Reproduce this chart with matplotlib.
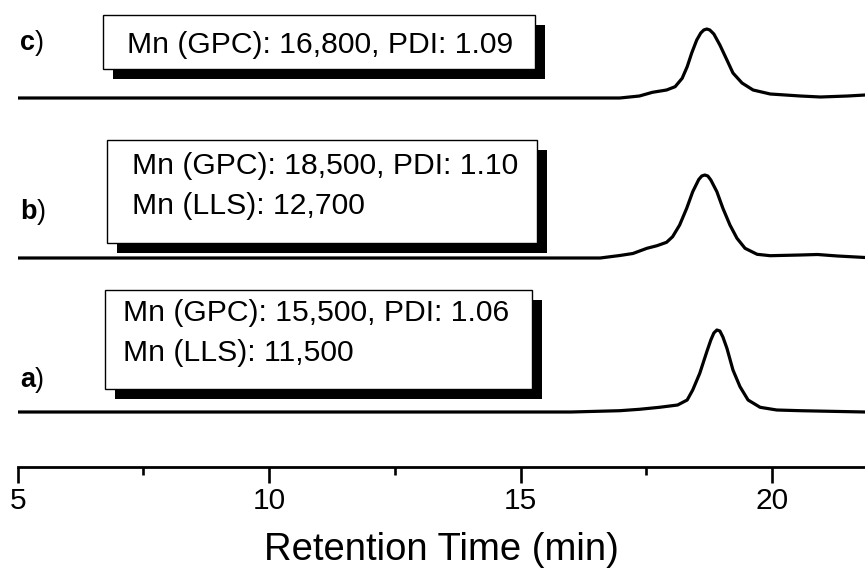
import matplotlib
matplotlib.use("Agg")
import matplotlib.pyplot as plt
from matplotlib.patches import Rectangle

plt.rcParams['font.family'] = ['Liberation Sans', 'DejaVu Sans']

# retention time (min) and detector signal (arbitrary units)
time_a = [5.0, 16.0, 16.97, 17.36, 17.76, 18.12, 18.31, 18.42, 18.56, 18.70, 18.78, 18.84, 18.90,
          18.96, 19.02, 19.10, 19.22, 19.36, 19.52, 19.76, 20.09, 20.56, 21.85]
sig_a = [0, 0, 1.3, 2.7, 4.7, 7, 12, 22, 38.7, 60.3, 72, 79, 82,
         81, 75, 63.7, 42, 25.3, 12, 4.7, 2, 1.3, 0]

time_b = [5.0, 16.58, 16.97, 17.23, 17.51, 17.71, 17.90, 18.02, 18.16, 18.30, 18.42, 18.54, 18.60,
          18.66, 18.72, 18.78, 18.90, 19.02, 19.16, 19.30, 19.46, 19.70, 19.96, 20.56, 20.90, 21.30, 21.85]
sig_b = [0, 0, 2.5, 4.5, 9.7, 12.3, 15.7, 21.3, 33, 49.7, 66.3, 78.5, 82,
         83, 82, 78, 66.3, 49.7, 33, 19.7, 9.7, 3.7, 2.3, 3, 3.5, 2, 0.5]

time_c = [5.0, 16.0, 16.97, 17.36, 17.62, 17.90, 18.07, 18.21, 18.31, 18.40, 18.50, 18.58, 18.64,
          18.70, 18.76, 18.84, 18.96, 19.10, 19.22, 19.40, 19.62, 19.96, 20.56, 20.96, 21.50, 21.85]
sig_c = [0, 0, 0, 2, 5.7, 8, 11.3, 19.7, 31.3, 45, 58, 65, 68,
         69, 68, 64, 53, 38, 25, 15, 8, 4, 2, 1, 2, 3]

offsets = [55, 209, 369]
labels = ['a', 'b', 'c']
box_texts = ['Mn (GPC): 15,500, PDI: 1.06\nMn (LLS): 11,500',
             'Mn (GPC): 18,500, PDI: 1.10\nMn (LLS): 12,700',
             'Mn (GPC): 16,800, PDI: 1.09']

W, H = 865, 571
fig = plt.figure(figsize=(W / 100, H / 100), dpi=100)
ax = fig.add_axes([17.7 / W, (H - 467) / H, 1 - 17.7 / W, 467 / H])

for t, s, off in zip([time_a, time_b, time_c], [sig_a, sig_b, sig_c], offsets):
    ax.plot(t, [v + off for v in s], color='black', lw=2.3, solid_joinstyle='round')

ax.set_xlim(5, 21.845)
ax.set_ylim(0, 467)
for side in ['top', 'right', 'left']:
    ax.spines[side].set_visible(False)
ax.spines['bottom'].set_linewidth(2.0)
ax.set_yticks([])
ax.set_xticks([5, 10, 15, 20])
ax.set_xticks([7.5, 12.5, 17.5], minor=True)
ax.tick_params(axis='x', which='major', length=11.5, width=1.9, labelsize=21.5, pad=3)
ax.tick_params(axis='x', which='minor', length=6, width=1.9)
ax.set_xlabel('Retention Time (min)', fontsize=27.5, labelpad=12)


def fxy(px, py):
    return px / W, 1 - py / H


# boxes with drop shadow (pixel layout: left, top, right, bottom)
boxes = [(105, 290, 532, 389), (107, 140, 537, 243), (103, 15, 535, 69)]
text_pos = [(123, 299), (132, 152), (127, 31)]
label_y = [380, 212, 43]
shadow = 10
for (l, t, r, b), (tx, ty), ly, lab, txt in zip(boxes, text_pos, label_y, labels, box_texts):
    x0, y0 = fxy(l + shadow, b + shadow)
    fig.add_artist(Rectangle((x0, y0), (r - l) / W, (b - t) / H, transform=fig.transFigure,
                             facecolor='black', edgecolor='black', lw=0))
    x0, y0 = fxy(l, b)
    fig.add_artist(Rectangle((x0, y0), (r - l) / W, (b - t) / H, transform=fig.transFigure,
                             facecolor='white', edgecolor='black', lw=1.0))
    x, y = fxy(tx, ty)
    fig.text(x, y, txt, fontsize=21.7, ha='left', va='top', linespacing=1.55)
    x, y = fxy(20, ly)
    lt = fig.text(x, y, lab, fontsize=19.5, fontweight='bold', ha='left', va='center')
    ax.annotate(')', xy=(1, 0), xycoords=lt, fontsize=19.5, ha='left', va='bottom',
                annotation_clip=False)

fig.savefig('out.png', dpi=100)
